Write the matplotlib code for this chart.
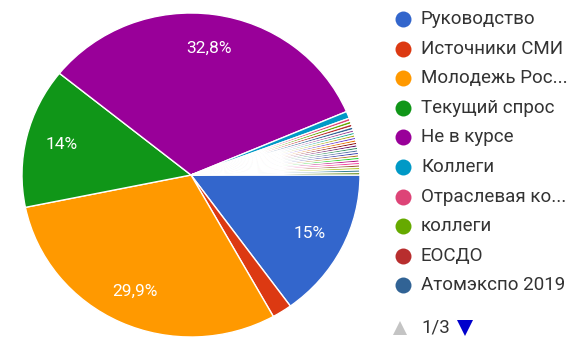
import matplotlib.pyplot as plt
from matplotlib.lines import Line2D

# данные (как в Google Forms, первая страница легенды)
labels = ["Руководство", "Источники СМИ", "Молодежь Рос...", "Текущий спрос",
          "Не в курсе", "Коллеги", "Отраслевая ко...", "коллеги", "ЕОСДО",
          "Атомэкспо 2019"]
values = [15.0, 1.9, 29.9, 14.0, 32.8, 0.7, 0.3, 0.3, 0.3, 0.3]
# остальные ответы (страницы 2 и 3 легенды) — очень маленькие доли
hidden_values = [0.25] * 18

colors = ["#3366cc", "#dc3912", "#ff9900", "#109618", "#990099", "#0099c6",
          "#dd4477", "#66aa00", "#b82e2e", "#316395"]
hidden_colors = ["#994499", "#22aa99", "#aaaa11", "#6633cc", "#e67300",
                 "#8b0707", "#651067", "#329262", "#5574a6", "#3b3eac",
                 "#b77322", "#16d620", "#b91383", "#f4359e", "#9c5935",
                 "#a9c413", "#2a778d", "#668d1c"]

page_text = "1/3"

font = "Roboto"
W, H = 574, 345

fig = plt.figure(figsize=(W / 100, H / 100), dpi=100)
fig.patch.set_facecolor("white")

# круговая диаграмма (пиксели: слева 22, справа 360, сверху 13, снизу 337)
ax = fig.add_axes([22 / W, (H - 337) / H, 338 / W, 324 / H])


def fmt_pct(p):
    if p < 5:
        return ""
    s = f"{p:.1f}".replace(".", ",")
    if s.endswith(",0"):
        s = s[:-2]
    return s + "%"


wedges, _, autotexts = ax.pie(
    values + hidden_values,
    colors=colors + hidden_colors,
    startangle=0,
    counterclock=False,
    autopct=fmt_pct,
    pctdistance=0.79,
    wedgeprops=dict(edgecolor="white", linewidth=1.0),
    textprops=dict(color="white", fontsize=12.5, fontfamily=font),
)
ax.set_aspect("auto")
ax.set_xlim(-1, 1)
ax.set_ylim(-1, 1)

# легенда
lax = fig.add_axes([0, 0, 1, 1])
lax.set_xlim(0, W)
lax.set_ylim(H, 0)
lax.axis("off")

y0, step = 19, 29.6
for i, (lab, col) in enumerate(zip(labels, colors)):
    y = y0 + i * step
    lax.add_line(Line2D([403], [y], marker="o", markersize=11.5,
                        color=col, markeredgewidth=0))
    lax.text(421, y, lab, fontsize=13.5, fontfamily=font, color="#333333",
             va="center", ha="left")

py = 328
lax.add_line(Line2D([400], [py], marker="^", markersize=10,
                    color="#c4c4c4", markeredgewidth=0))
lax.text(421, py, page_text, fontsize=13.5, fontfamily=font,
         color="#333333", va="center", ha="left")
lax.add_line(Line2D([465], [py], marker="v", markersize=11,
                    color="#0000cc", markeredgewidth=0))

fig.savefig("out.png", dpi=100)
